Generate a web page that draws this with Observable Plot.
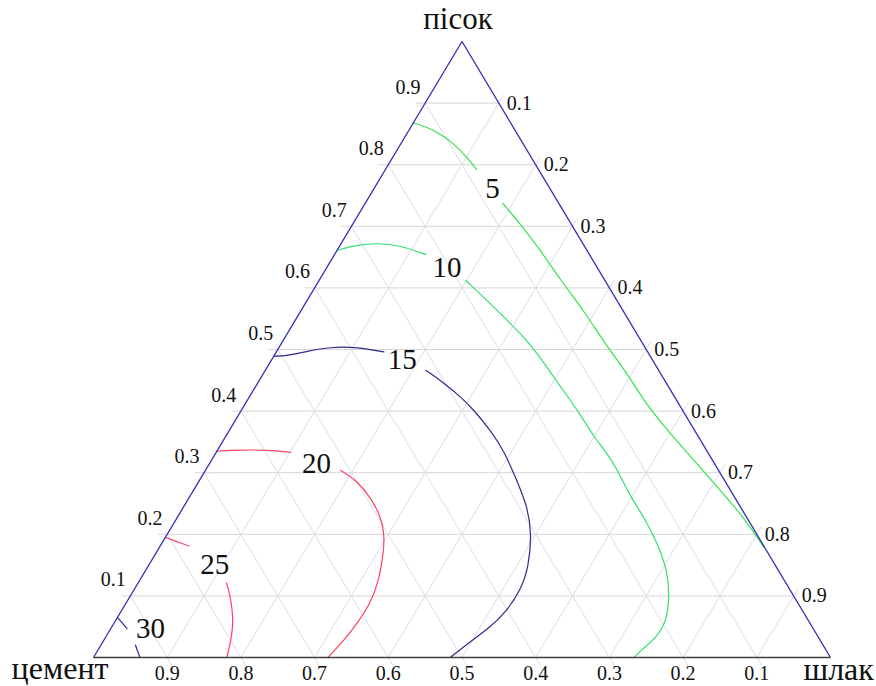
<!DOCTYPE html>
<html>
<head>
<meta charset="utf-8">
<script src="https://cdn.jsdelivr.net/npm/d3@7"></script>
<script src="https://cdn.jsdelivr.net/npm/@observablehq/plot@0.6"></script>
<style>
  html, body { margin: 0; padding: 0; background: #fff; }
  #chart svg { display: block; }
</style>
</head>
<body>
<div id="chart"></div>
<script>
// ---------- data ----------
// Vertex (component) names
const componentNames = ["цемент", "пісок", "шлак"]; // cement (bottom-left), sand (top), slag (bottom-right)

// Ternary grid / tick values and labels
const tickValues = [0.1, 0.2, 0.3, 0.4, 0.5, 0.6, 0.7, 0.8, 0.9];
const tickLabels = ["0.1", "0.2", "0.3", "0.4", "0.5", "0.6", "0.7", "0.8", "0.9"];

// Contour levels
const contourLevels = [5, 10, 15, 20, 25, 30];

// Contour lines, each a list of segments; each point is [sand, slag] (cement = 1 - sand - slag)
const contour5 = [
  [[0.868, 0.000], [0.861, 0.022], [0.850, 0.046], [0.834, 0.072], [0.812, 0.101], [0.792, 0.124]],
  [[0.737, 0.187], [0.704, 0.227], [0.661, 0.276], [0.612, 0.328], [0.563, 0.384], [0.504, 0.445],
   [0.461, 0.494], [0.417, 0.538], [0.369, 0.594], [0.320, 0.655], [0.271, 0.715], [0.228, 0.768],
   [0.179, 0.820]]
];
const contour10 = [
  [[0.661, 0.000], [0.669, 0.019], [0.673, 0.049], [0.669, 0.082], [0.654, 0.124]],
  [[0.612, 0.199], [0.580, 0.244], [0.547, 0.288], [0.520, 0.324], [0.493, 0.356], [0.455, 0.397],
   [0.417, 0.439], [0.385, 0.473], [0.358, 0.500], [0.331, 0.532], [0.304, 0.559], [0.260, 0.599],
   [0.228, 0.633], [0.185, 0.673], [0.141, 0.708], [0.103, 0.730], [0.060, 0.748], [0.033, 0.748],
   [0.011, 0.737], [0.000, 0.733]]
];
const contour15 = [
  [[0.489, 0.000], [0.490, 0.018], [0.497, 0.041], [0.504, 0.069], [0.504, 0.106], [0.496, 0.146]],
  [[0.466, 0.218], [0.450, 0.246], [0.423, 0.287], [0.401, 0.316], [0.369, 0.354], [0.336, 0.389],
   [0.287, 0.431], [0.244, 0.467], [0.201, 0.494], [0.147, 0.517], [0.109, 0.525], [0.076, 0.523],
   [0.049, 0.514], [0.022, 0.496], [0.000, 0.484]]
];
const contour20 = [
  [[0.335, 0.000], [0.337, 0.031], [0.337, 0.067], [0.333, 0.101]],
  [[0.304, 0.183], [0.287, 0.214], [0.260, 0.246], [0.228, 0.276], [0.201, 0.294], [0.174, 0.307],
   [0.125, 0.325], [0.087, 0.332], [0.055, 0.330], [0.028, 0.326], [0.000, 0.318]]
];
const contour25 = [
  [[0.195, 0.000], [0.181, 0.039]],
  [[0.121, 0.120], [0.098, 0.137], [0.065, 0.157], [0.039, 0.169], [0.000, 0.181]]
];
const contour30 = [
  [[0.065, 0.000], [0.047, 0.022]],
  [[0.020, 0.047], [0.000, 0.063]]
];
const contourPaths = [contour5, contour10, contour15, contour20, contour25, contour30];

// Contour label positions [sand, slag]
const contourLabelPos = [
  [0.761, 0.161], [0.633, 0.163], [0.484, 0.177], [0.315, 0.145], [0.151, 0.089], [0.047, 0.054]
];

// ---------- build tables ----------
const tickLen = 0.013; // small tick extension beyond the triangle (ternary units)

const contourRows = [];
contourPaths.forEach((segments, i) => {
  segments.forEach((seg, j) => {
    seg.forEach(([sand, slag]) => {
      contourRows.push({level: contourLevels[i], id: `${i}-${j}`, sand, slag});
    });
  });
});
const labelRows = contourLevels.map((level, i) => ({
  level, text: String(level), sand: contourLabelPos[i][0], slag: contourLabelPos[i][1]
}));

// cartesian from ternary (x = slag + sand/2, y = sand)
const tx = (sand, slag) => slag + sand / 2;

const gridSand = tickValues.map(v => ({x1: tx(v, -tickLen), y1: v, x2: tx(v, 1 - v), y2: v}));
const gridSlag = tickValues.map(v => ({x1: tx(0, v), y1: 0, x2: tx(1 - v + tickLen, v), y2: 1 - v + tickLen}));
const gridCement = tickValues.map(v => ({x1: tx(1 - v, 0), y1: 1 - v, x2: tx(-tickLen, 1 - v + tickLen), y2: -tickLen}));

const leftTicks = tickValues.map((v, i) => ({x: tx(v, -tickLen), y: v, text: tickLabels[i]}));
const rightTicks = tickValues.map((v, i) => ({x: tx(1 - v, v), y: 1 - v, text: tickLabels[i]}));
const bottomTicks = tickValues.map((v, i) => ({x: tx(0, 1 - v), y: 0, text: tickLabels[i]}));

const edgesSide = [
  {x1: tx(0, 0), y1: 0, x2: tx(1, 0), y2: 1},
  {x1: tx(1, 0), y1: 1, x2: tx(0, 1), y2: 0}
];
const edgeBottom = [{x1: tx(0, 0), y1: 0, x2: tx(0, 1), y2: 0}];

const font = "'Liberation Serif', 'Times New Roman', serif";

const chart = Plot.plot({
  width: 876,
  height: 686,
  marginLeft: 93,
  marginRight: 46,
  marginTop: 41,
  marginBottom: 29,
  axis: null,
  x: {domain: [0, 1]},
  y: {domain: [0, 1]},
  color: {domain: contourLevels, range: ["#36e24e", "#30e070", "#2c2c8c", "#ff4262", "#ff4268", "#2c2c8c"]},
  style: {fontFamily: font, background: "#fff", overflow: "visible"},
  marks: [
    Plot.link(gridSand, {x1: "x1", y1: "y1", x2: "x2", y2: "y2", stroke: "#d6d6d6", strokeWidth: 1}),
    Plot.link(gridSlag, {x1: "x1", y1: "y1", x2: "x2", y2: "y2", stroke: "#dcdcea", strokeWidth: 1}),
    Plot.link(gridCement, {x1: "x1", y1: "y1", x2: "x2", y2: "y2", stroke: "#dcdcea", strokeWidth: 1}),
    Plot.line(contourRows, {
      x: d => tx(d.sand, d.slag), y: "sand", z: "id", stroke: "level",
      strokeWidth: 1.2, curve: "basis"
    }),
    Plot.link(edgesSide, {x1: "x1", y1: "y1", x2: "x2", y2: "y2", stroke: "#2f2fb4", strokeWidth: 1.3}),
    Plot.link(edgeBottom, {x1: "x1", y1: "y1", x2: "x2", y2: "y2", stroke: "#404040", strokeWidth: 1.5}),
    Plot.text(labelRows, {
      x: d => tx(d.sand, d.slag), y: "sand", text: "text",
      fontSize: 29, fill: "#111", textAnchor: "middle"
    }),
    Plot.text(leftTicks, {x: "x", y: "y", text: "text", fontSize: 20, fill: "#111", textAnchor: "end", dx: 5, dy: -16}),
    Plot.text(rightTicks, {x: "x", y: "y", text: "text", fontSize: 20, fill: "#111", textAnchor: "start", dx: 8, dy: 0}),
    Plot.text(bottomTicks, {x: "x", y: "y", text: "text", fontSize: 20, fill: "#111", textAnchor: "middle", dy: 16}),
    Plot.text([{x: tx(1, 0), y: 1, text: componentNames[1]}], {x: "x", y: "y", text: "text", fontSize: 31, fill: "#111", textAnchor: "middle", dx: -4, dy: -22}),
    Plot.text([{x: tx(0, 0), y: 0, text: componentNames[0]}], {x: "x", y: "y", text: "text", fontSize: 32, fill: "#111", textAnchor: "end", dx: 15, dy: 11}),
    Plot.text([{x: tx(0, 1), y: 0, text: componentNames[2]}], {x: "x", y: "y", text: "text", fontSize: 32, fill: "#111", textAnchor: "start", dx: -27, dy: 12})
  ]
});
document.getElementById("chart").appendChild(chart);
</script>
</body>
</html>
